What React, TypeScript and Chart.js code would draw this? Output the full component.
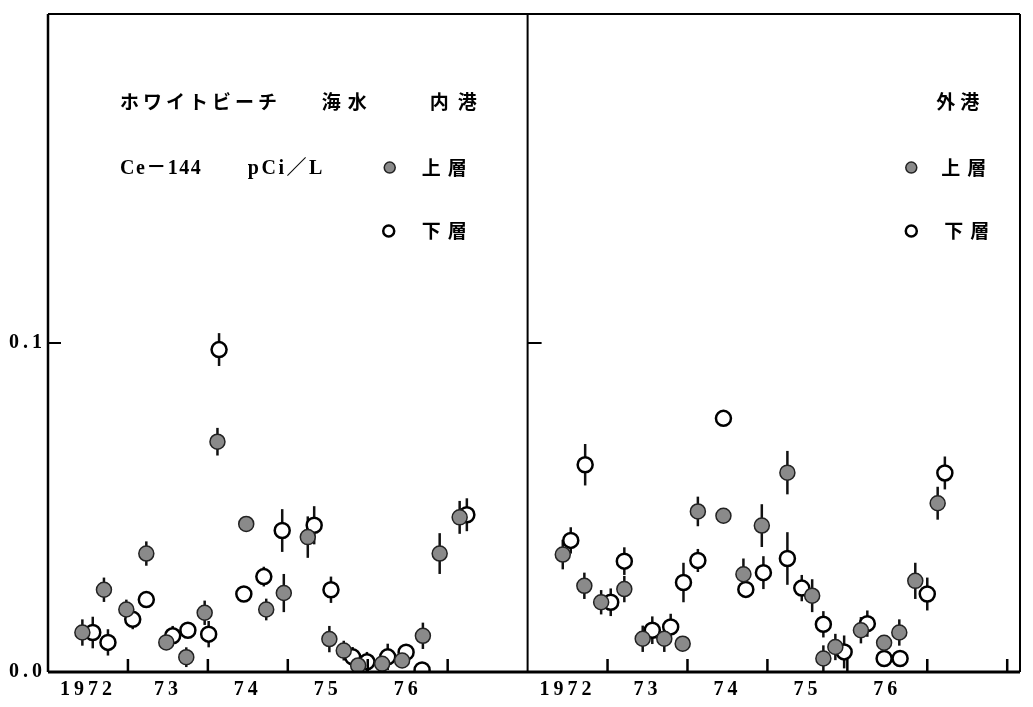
import React, { useEffect, useRef } from 'react';
import { Chart, registerables } from 'chart.js';

Chart.register(...registerables);

// ---- data ----
const panelStartYear = 1972;
const panelSpanYears = 6;
const xMax = 12.16;
const yMax = 0.2;
const xTickLabels = ['1972', '73', '74', '75', '76'];
const yTickValues = [0, 0.1];
const boundaryYears = [1973, 1974, 1975, 1976, 1977];
const outerBoundaryYears = [1973, 1974, 1975, 1976, 1977, 1978];

// 内港 (inner harbour) 上層 (surface)
const innerTopYears = [1972.43, 1972.70, 1972.98, 1973.23, 1973.48, 1973.73, 1973.96, 1974.12, 1974.48, 1974.73, 1974.95, 1975.25, 1975.52, 1975.70, 1975.88, 1976.18, 1976.43, 1976.69, 1976.90, 1977.15];
const innerTopValues = [0.012, 0.025, 0.019, 0.036, 0.009, 0.0045, 0.018, 0.070, 0.045, 0.019, 0.024, 0.041, 0.010, 0.0065, 0.002, 0.0025, 0.0035, 0.011, 0.036, 0.047];
const innerTopErrors = [0.004, 0.0037, 0.003, 0.0037, 0, 0.003, 0.0037, 0.0042, 0, 0.0033, 0.0058, 0.0063, 0.004, 0.003, 0, 0.003, 0, 0.004, 0.0062, 0.005];

// 内港 下層 (bottom)
const innerBottomYears = [1972.56, 1972.75, 1973.06, 1973.23, 1973.56, 1973.75, 1974.01, 1974.14, 1974.45, 1974.70, 1974.93, 1975.33, 1975.54, 1975.81, 1975.99, 1976.25, 1976.48, 1976.68, 1977.24];
const innerBottomValues = [0.012, 0.009, 0.016, 0.022, 0.011, 0.0127, 0.0115, 0.098, 0.0237, 0.029, 0.043, 0.0446, 0.025, 0.0046, 0.0031, 0.0046, 0.006, 0.0006, 0.0478];
const innerBottomErrors = [0.0048, 0.004, 0.003, 0, 0.003, 0, 0.004, 0.005, 0, 0.003, 0.0065, 0.0058, 0.004, 0.003, 0.003, 0.004, 0, 0, 0.005];

// 外港 (outer harbour) 上層
const outerTopYears = [1972.44, 1972.71, 1972.92, 1973.21, 1973.44, 1973.71, 1973.94, 1974.13, 1974.45, 1974.70, 1974.93, 1975.25, 1975.56, 1975.70, 1975.85, 1976.17, 1976.46, 1976.65, 1976.85, 1977.13];
const outerTopValues = [0.0357, 0.0262, 0.0212, 0.0252, 0.0101, 0.0101, 0.0086, 0.0488, 0.0475, 0.0297, 0.0445, 0.0606, 0.0232, 0.0041, 0.0076, 0.0127, 0.0089, 0.0120, 0.0277, 0.0513];
const outerTopErrors = [0.0045, 0.004, 0.0037, 0.004, 0.004, 0.004, 0, 0.0045, 0, 0.0048, 0.0065, 0.0066, 0.005, 0.004, 0.004, 0.004, 0, 0.004, 0.0055, 0.005];

// 外港 下層
const outerBottomYears = [1972.54, 1972.72, 1973.04, 1973.21, 1973.56, 1973.79, 1973.95, 1974.13, 1974.45, 1974.73, 1974.95, 1975.25, 1975.43, 1975.70, 1975.96, 1976.25, 1976.46, 1976.66, 1977.00, 1977.22];
const outerBottomValues = [0.040, 0.063, 0.0212, 0.0337, 0.0127, 0.0137, 0.0272, 0.0339, 0.0771, 0.0251, 0.0302, 0.0345, 0.0255, 0.0145, 0.0061, 0.0147, 0.0041, 0.0041, 0.0237, 0.0605];
const outerBottomErrors = [0.004, 0.0063, 0.0042, 0.0042, 0.0042, 0.004, 0.006, 0.0035, 0, 0, 0.005, 0.008, 0.004, 0.004, 0.005, 0.004, 0, 0, 0.005, 0.005];

// ---- helpers ----
const toPoints = (years: number[], values: number[], panel: number) =>
  years.map((yr, i) => ({ x: yr - panelStartYear + panel * panelSpanYears, y: values[i] }));

const xLabelPositions = [0, 1].flatMap((p) => xTickLabels.map((_, i) => p * panelSpanYears + i + 0.5));

const SERIF = "'Liberation Serif', 'Noto Sans CJK JP', serif";
const CJK = "'Noto Sans CJK JP', 'Noto Sans CJK SC', sans-serif";
const FILL_GREY = '#8a8a8a';

const drawSpaced = (ctx: CanvasRenderingContext2D, text: string, x: number, y: number, spacing: number) => {
  let cx = x;
  for (const ch of Array.from(text)) {
    ctx.fillText(ch, cx, y);
    cx += ctx.measureText(ch).width + spacing;
  }
};

const errorBarPlugin = {
  id: 'errorBars',
  beforeDatasetsDraw(chart: any) {
    const { ctx, scales } = chart;
    const xs = scales.x;
    const ys = scales.y;
    ctx.save();
    ctx.strokeStyle = '#111';
    ctx.lineWidth = 2.5;
    chart.data.datasets.forEach((ds: any) => {
      ds.data.forEach((p: any, i: number) => {
        const e = ds.errors[i];
        if (!e) return;
        const px = xs.getPixelForValue(p.x);
        ctx.beginPath();
        ctx.moveTo(px, ys.getPixelForValue(Math.max(0, p.y - e)));
        ctx.lineTo(px, ys.getPixelForValue(p.y + e));
        ctx.stroke();
      });
    });
    ctx.restore();
  },
};

const spacingPlugin = {
  id: 'labelSpacing',
  beforeDraw(chart: any) {
    (chart.ctx as any).letterSpacing = '4px';
  },
};

const framePlugin = {
  id: 'frame',
  afterDatasetsDraw(chart: any) {
    const { ctx, chartArea: a, scales } = chart;
    const xs = scales.x;
    const ys = scales.y;
    const div = xs.getPixelForValue(panelSpanYears);
    ctx.save();
    (ctx as any).letterSpacing = '0px';
    ctx.strokeStyle = '#000';
    const line = (x1: number, y1: number, x2: number, y2: number, w: number) => {
      ctx.lineWidth = w;
      ctx.beginPath();
      ctx.moveTo(x1, y1);
      ctx.lineTo(x2, y2);
      ctx.stroke();
    };
    line(a.left, a.top, a.right, a.top, 2);
    line(a.right, a.top, a.right, a.bottom, 2);
    line(a.left, a.top, a.left, a.bottom, 2.5);
    line(div, a.top, div, a.bottom, 2);
    line(a.left, a.bottom, a.right, a.bottom, 3);
    // inward year-boundary ticks
    boundaryYears.forEach((yr) => {
      const px = xs.getPixelForValue(yr - panelStartYear);
      line(px, a.bottom, px, a.bottom - 13, 2.5);
    });
    outerBoundaryYears.forEach((yr) => {
      const px = xs.getPixelForValue(yr - panelStartYear + panelSpanYears);
      line(px, a.bottom, px, a.bottom - 13, 2.5);
    });
    // inward 0.1 ticks
    const y1 = ys.getPixelForValue(yTickValues[1]);
    line(a.left, y1, a.left + 13, y1, 2);
    line(div, y1, div + 14, y1, 2);
    ctx.restore();
  },
};

const textPlugin = {
  id: 'texts',
  afterDraw(chart: any) {
    const { ctx, scales } = chart;
    const xs = scales.x;
    const ys = scales.y;
    const X = (px: number) => xs.getPixelForValue((px - 48) / 80);
    const Y = (py: number) => ys.getPixelForValue((672 - py) / 3320);
    ctx.save();
    (ctx as any).letterSpacing = '0px';
    ctx.fillStyle = '#000';
    ctx.textAlign = 'left';
    ctx.textBaseline = 'middle';
    ctx.font = `bold 19px ${CJK}`;
    drawSpaced(ctx, 'ホワイトビーチ', X(120), Y(97), 4);
    drawSpaced(ctx, '海水', X(322), Y(97), 7);
    drawSpaced(ctx, '内港', X(430), Y(97), 9);
    drawSpaced(ctx, '上層', X(422), Y(163), 7);
    drawSpaced(ctx, '下層', X(422), Y(227), 7);
    drawSpaced(ctx, '外港', X(937), Y(97), 5);
    drawSpaced(ctx, '上層', X(942), Y(163), 7);
    drawSpaced(ctx, '下層', X(945), Y(227), 7);
    ctx.font = `bold 20px ${SERIF}`;
    drawSpaced(ctx, 'Ce－144', X(120), Y(164), 1.5);
    drawSpaced(ctx, 'pCi／L', X(248), Y(164), 2.5);

    const marker = (px: number, py: number, filled: boolean) => {
      ctx.beginPath();
      ctx.arc(X(px), Y(py), 5.5, 0, Math.PI * 2);
      if (filled) {
        ctx.fillStyle = FILL_GREY;
        ctx.fill();
        ctx.lineWidth = 1.5;
        ctx.strokeStyle = '#222';
      } else {
        ctx.fillStyle = '#fff';
        ctx.fill();
        ctx.lineWidth = 2.5;
        ctx.strokeStyle = '#000';
      }
      ctx.stroke();
    };
    marker(390, 163, true);
    marker(389, 227, false);
    marker(912, 163, true);
    marker(912, 227, false);
    ctx.restore();
  },
};

export default function App() {
  const ref = useRef<HTMLCanvasElement>(null);

  useEffect(() => {
    const canvas = ref.current;
    if (!canvas) return;
    const filledStyle = {
      pointRadius: 7.5,
      pointBackgroundColor: FILL_GREY,
      pointBorderColor: '#222',
      pointBorderWidth: 1.5,
      showLine: false,
      clip: 0,
    };
    const openStyle = {
      pointRadius: 7.5,
      pointBackgroundColor: '#fff',
      pointBorderColor: '#000',
      pointBorderWidth: 2.5,
      showLine: false,
      clip: 0,
    };
    const chart = new Chart(canvas, {
      type: 'scatter',
      data: {
        datasets: [
          { label: '内港 上層', data: toPoints(innerTopYears, innerTopValues, 0), errors: innerTopErrors, ...filledStyle } as any,
          { label: '外港 上層', data: toPoints(outerTopYears, outerTopValues, 1), errors: outerTopErrors, ...filledStyle } as any,
          { label: '内港 下層', data: toPoints(innerBottomYears, innerBottomValues, 0), errors: innerBottomErrors, ...openStyle } as any,
          { label: '外港 下層', data: toPoints(outerBottomYears, outerBottomValues, 1), errors: outerBottomErrors, ...openStyle } as any,
        ],
      },
      options: {
        animation: false,
        responsive: false,
        events: [],
        layout: { padding: { top: 8, right: 13, left: 0, bottom: 0 } },
        plugins: { legend: { display: false }, tooltip: { enabled: false } },
        scales: {
          x: {
            type: 'linear',
            min: 0,
            max: xMax,
            grid: { display: false, drawTicks: false },
            border: { display: false },
            ticks: {
              color: '#000',
              padding: 6,
              maxRotation: 0,
              autoSkip: false,
              font: { family: SERIF, size: 20, weight: 'bold' },
              callback: (v: any) => xTickLabels[Math.floor(Number(v) % panelSpanYears)],
            },
            afterBuildTicks: (s: any) => {
              s.ticks = xLabelPositions.map((v) => ({ value: v }));
            },
            afterFit: (s: any) => {
              s.height = 35;
            },
          },
          y: {
            type: 'linear',
            min: 0,
            max: yMax,
            grid: { display: false, drawTicks: false },
            border: { display: false },
            ticks: {
              color: '#000',
              padding: 2,
              font: { family: SERIF, size: 20, weight: 'bold' },
              callback: (v: any) => Number(v).toFixed(1),
            },
            afterBuildTicks: (s: any) => {
              s.ticks = yTickValues.map((v) => ({ value: v }));
            },
            afterFit: (s: any) => {
              s.width = 48;
            },
          },
        },
      } as any,
      plugins: [spacingPlugin, errorBarPlugin, framePlugin, textPlugin],
    });
    return () => chart.destroy();
  }, []);

  return (
    <div style={{ position: 'absolute', left: 0, top: 0, width: 1033, height: 707, background: '#fff' }}>
      <canvas ref={ref} width={1033} height={707} style={{ display: 'block', width: 1033, height: 707 }} />
    </div>
  );
}
